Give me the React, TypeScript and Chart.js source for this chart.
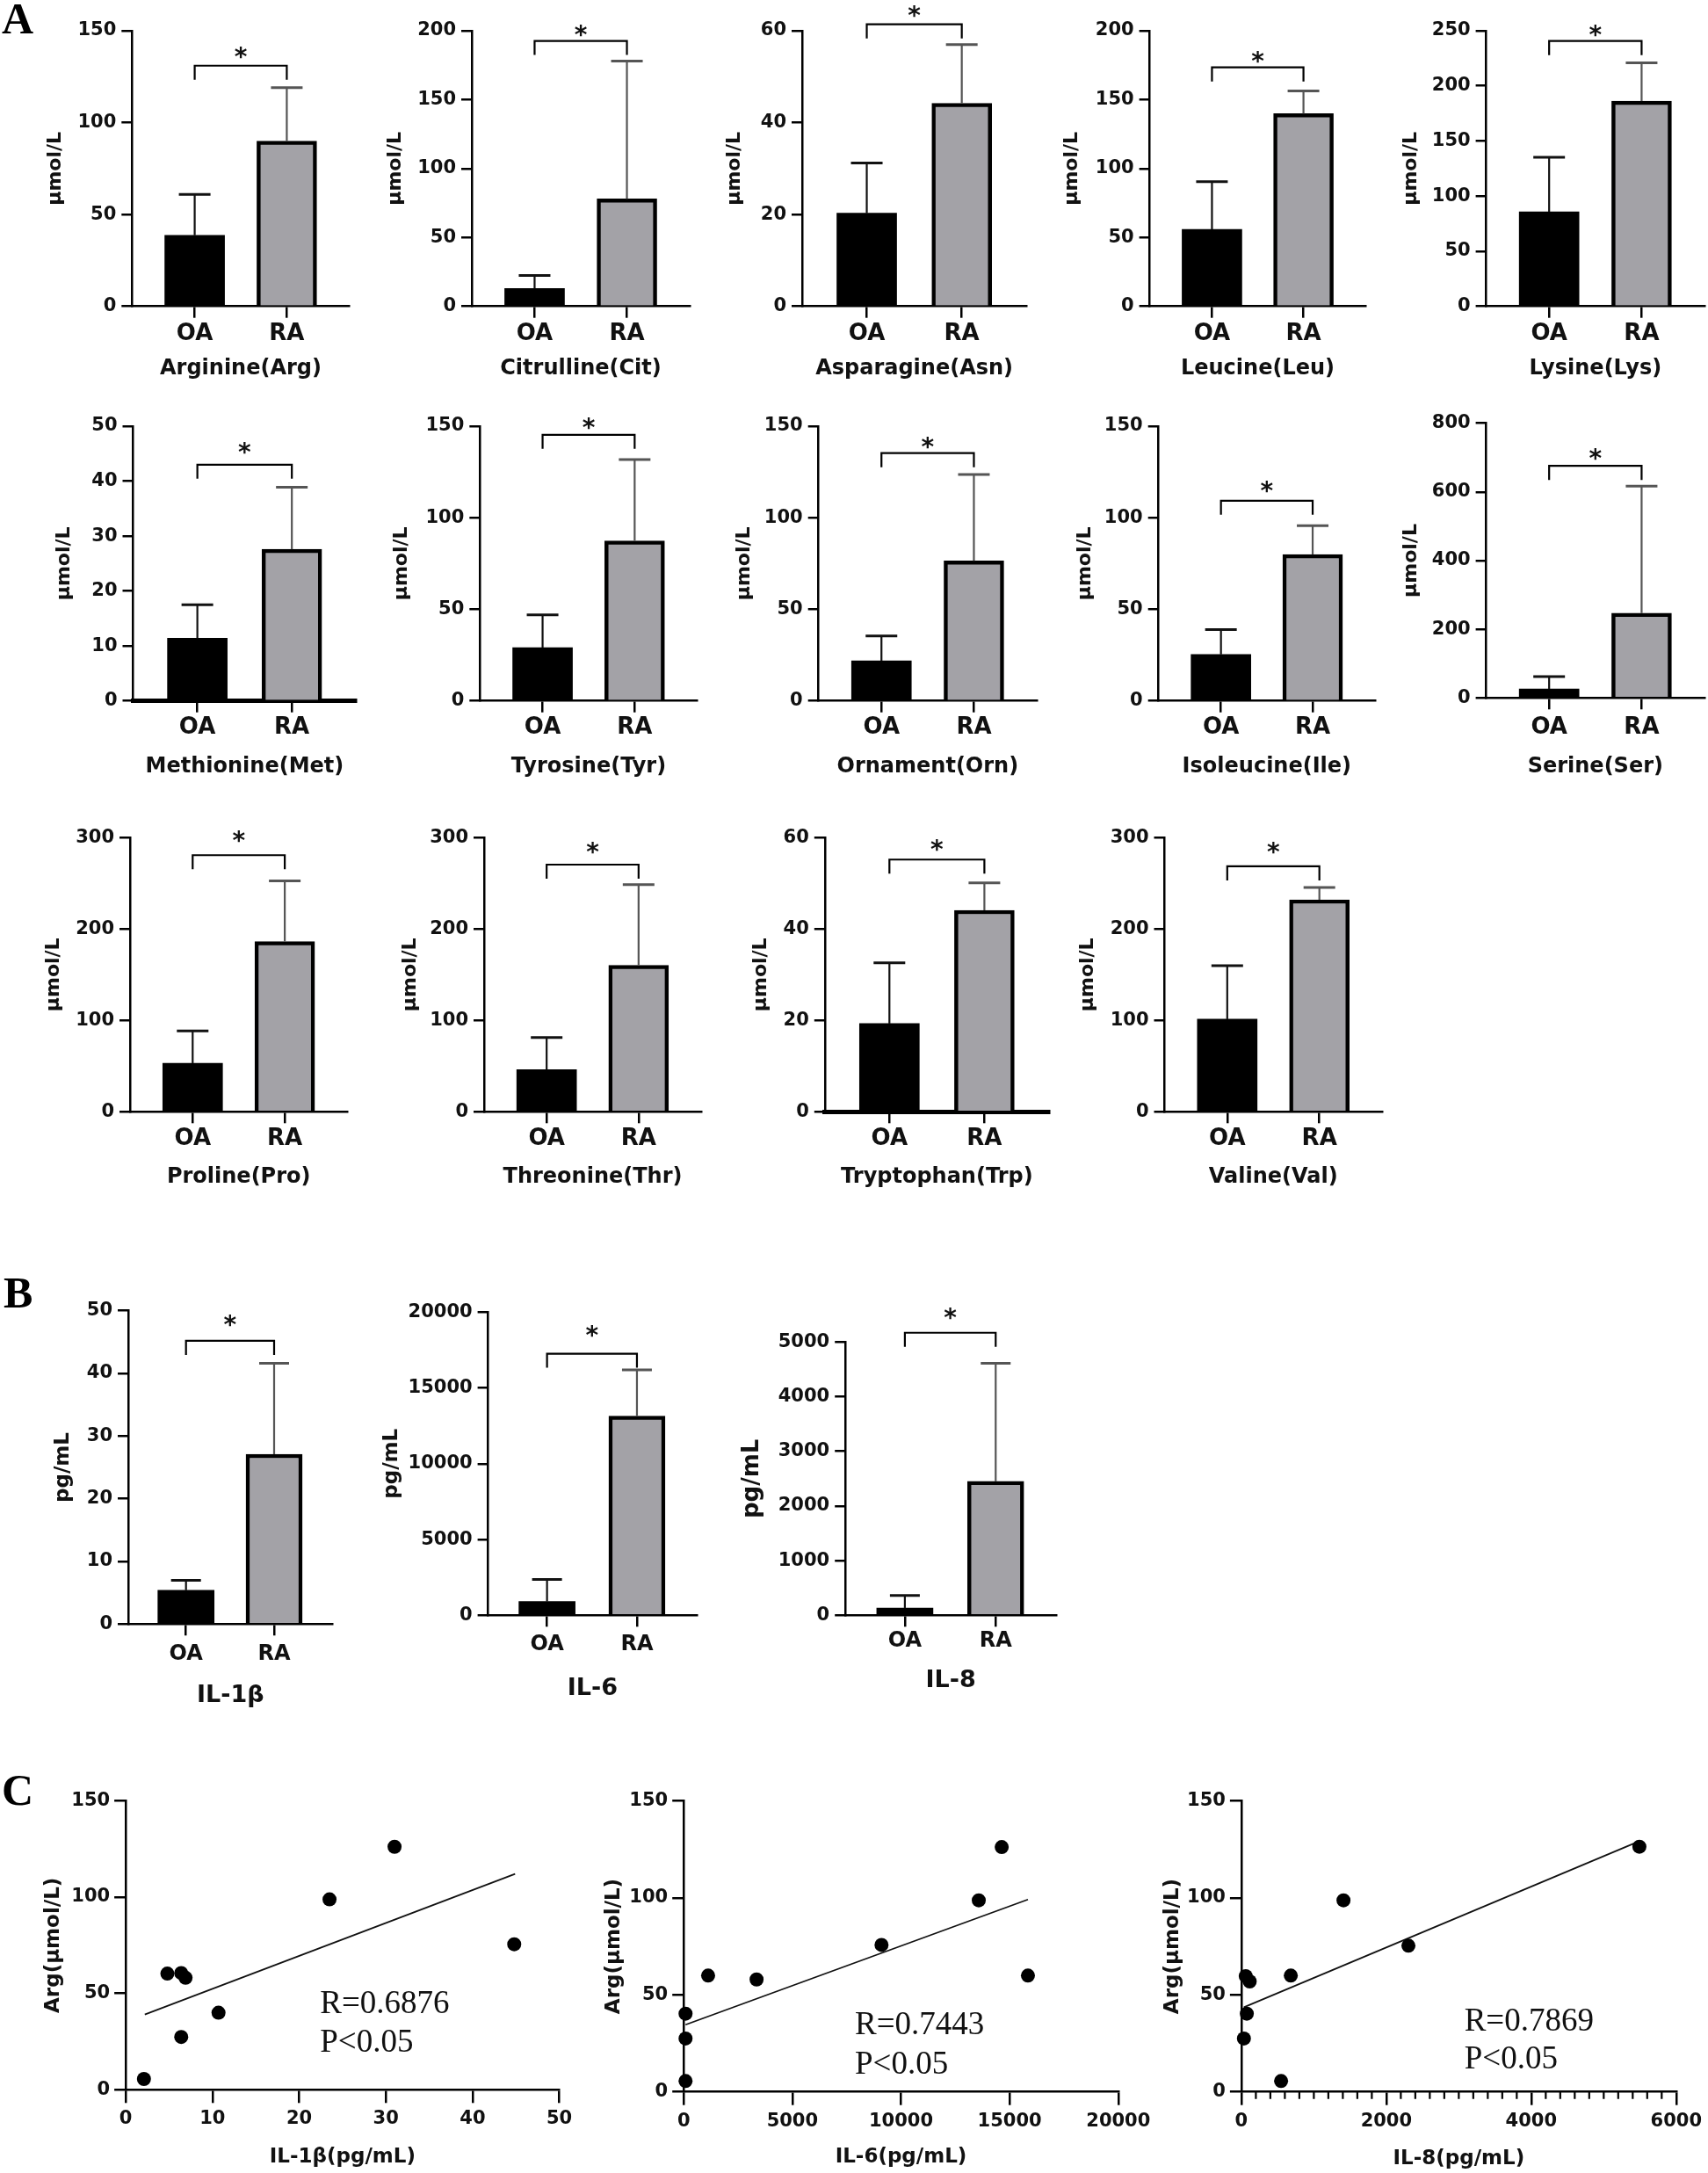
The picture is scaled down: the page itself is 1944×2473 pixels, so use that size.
import React, { useEffect, useRef } from 'react';
import { Chart, registerables } from 'chart.js';

Chart.register(...registerables);

// ---------------- DATA ----------------
const groups = ['OA', 'RA'];

// Panel A: amino acids (μmol/L)
const aminoNames = [
  'Arginine(Arg)', 'Citrulline(Cit)', 'Asparagine(Asn)', 'Leucine(Leu)', 'Lysine(Lys)',
  'Methionine(Met)', 'Tyrosine(Tyr)', 'Ornament(Orn)', 'Isoleucine(Ile)', 'Serine(Ser)',
  'Proline(Pro)', 'Threonine(Thr)', 'Tryptophan(Trp)', 'Valine(Val)',
];
const aminoOAMean = [38.7, 13, 20.3, 55.9, 85.8, 11.4, 29.1, 21.9, 25.4, 26.4, 53.2, 46.2, 19.3, 101.3];
const aminoOAUpper = [61, 22.5, 31.2, 90.5, 135.2, 17.5, 47, 35.5, 39, 62.3, 88.5, 81.4, 32.6, 160];
const aminoRAMean = [90, 78, 44.2, 139.8, 186.2, 27.6, 87.4, 76.5, 79.9, 247, 186.2, 160.3, 44.1, 232];
const aminoRAUpper = [119, 178, 57, 156.4, 221, 38.9, 131.8, 123.6, 95.7, 616.7, 252.6, 248.7, 50.1, 245.5];
const aminoBracket = [131, 192.6, 61.4, 173.4, 240.7, 43, 145.3, 135.3, 109.3, 676, 280.8, 270.5, 55.2, 268.6];
const aminoStar = [138, 200, 64.2, 180.9, 250, 46, 151.3, 140.9, 116.9, 710, 301.6, 288.8, 58.4, 288.8];
const aminoYMax = [150, 200, 60, 200, 250, 50, 150, 150, 150, 800, 300, 300, 60, 300];
const aminoYStep = [50, 50, 20, 50, 50, 10, 50, 50, 50, 200, 100, 100, 20, 100];
const aminoUnit = 'μmol/L';

// Panel B: cytokines (pg/mL)
const cytoNames = ['IL-1β', 'IL-6', 'IL-8'];
const cytoOAMean = [5.4, 910, 134];
const cytoOAUpper = [7.0, 2360, 364];
const cytoRAMean = [27.1, 13140, 2450];
const cytoRAUpper = [41.6, 16190, 4610];
const cytoBracket = [45.2, 17260, 5170];
const cytoStar = [48.4, 18740, 5520];
const cytoYMax = [50, 20000, 5000];
const cytoYStep = [10, 5000, 1000];
const cytoUnit = 'pg/mL';

// Panel C: correlations of Arg with cytokines
const il1bValues = [2.1, 4.8, 6.4, 6.9, 6.4, 10.7, 23.5, 31.0, 44.8];
const il1bArg = [5.6, 60.3, 60.6, 58.1, 27.4, 40.0, 98.8, 126.1, 75.5];
const il1bFitX = [2.2, 44.9];
const il1bFitY = [39.1, 112.0];

const il6Values = [84, 84, 84, 1123, 3353, 9103, 13579, 14635, 15842];
const il6Arg = [5.6, 27.5, 40.3, 59.9, 57.9, 75.7, 98.7, 126.1, 59.9];
const il6FitX = [84, 15842];
const il6FitY = [34.6, 99.1];

const il8Values = [35, 75, 60, 115, 548, 682, 1409, 2305, 5492];
const il8Arg = [27.5, 40.3, 59.6, 56.9, 5.6, 59.9, 98.7, 75.3, 126.3];
const il8FitX = [35, 5477];
const il8FitY = [43.6, 128.9];

const corrXTitles = ['IL-1β(pg/mL)', 'IL-6(pg/mL)', 'IL-8(pg/mL)'];
const corrYTitle = 'Arg(μmol/L)';
const corrXMax = [50, 20000, 6000];
const corrXStep = [10, 5000, 2000];
const corrMinorStep = [0, 0, 200];
const corrYMax = 150;
const corrYStep = 50;
const rTexts = ['R=0.6876', 'R=0.7443', 'R=0.7869'];
const pTexts = ['P<0.05', 'P<0.05', 'P<0.05'];
const panelLetters = ['A', 'B', 'C'];

// ---------------- LAYOUT (page pixels) ----------------
const aminoAxisX = [150.3, 537, 913, 1308.6, 1691.6, 151.5, 546.3, 931.7, 1318.7, 1691.6, 148, 551, 938.8, 1325.5];
const aminoAxisEnd = [397.7, 785, 1168.2, 1554.4, 1940, 405.3, 793.6, 1180, 1565, 1940, 395.4, 798, 1193.9, 1573];
const aminoTopY = [35, 35, 35, 35, 35, 485, 485, 485, 485, 481.7, 953.3, 953.3, 953.3, 953.3];
const aminoZeroY = [348.7, 348.7, 348.7, 348.7, 348.7, 797.7, 797.7, 797.7, 797.7, 794.3, 1265.3, 1265.3, 1265.3, 1265.3];
const aminoCatY = [380, 380, 380, 380, 380, 828.3, 828.3, 828.3, 828.3, 828.3, 1296.7, 1296.7, 1296.7, 1296.7];
const aminoTitleY = [420, 420, 420, 420, 420, 873, 873, 873, 873, 873, 1340, 1340, 1340, 1340];
const aminoYTitleOff = [87, 87, 77, 88, 85, 78, 89, 85, 84, 85, 87, 84, 73, 87];
const aminoXAxisW = [2.5, 2.5, 2.5, 2.5, 2.5, 5, 2.5, 2.5, 2.5, 2.5, 2.5, 2.5, 5, 2.5];

const cytoAxisX = [146, 555.6, 962.2];
const cytoAxisEnd = [378.7, 793, 1202];
const cytoTopY = [1491.7, 1493.3, 1527.3];
const cytoZeroY = [1848.3, 1838.3, 1838.3];
const cytoCatY = [1883, 1871.7, 1868];
const cytoTitleY = [1930, 1921.7, 1913];
const cytoYTitleX = [72, 446, 857];
const cytoYTitleSize = [23, 23, 26];

const scAxisX = [143.1, 778.2, 1412.9];
const scXEnd = [636.6, 1272.8, 1907.8];
const scTopY = [2049.3, 2049.3, 2049.3];
const scZeroY = [2378.3, 2380.7, 2380.7];
const scTickY = [2411.7, 2415, 2415];
const scTitleY = [2455, 2455, 2456.7];
const scYTitleX = [60.7, 698.5, 1335];
const rLeft = [364.3, 973, 1666.7];
const rY = [2278, 2302.5, 2298];
const pY = [2322, 2347.5, 2341.7];
const letterPos = [[2, -4], [4, 1446], [2, 2012]];

// ---------------- STYLE ----------------
const SANS = "'DejaVu Sans', 'Liberation Sans', sans-serif";
const SERIF = "'Liberation Serif', 'DejaVu Serif', serif";
const TXT = '#111';
const PAGE_W = 1944;
const X_TICK = 13;
const Y_TICK = 12;

type Box = { left: number; top: number; width: number; height: number };

type BarSpec = {
  name: string; unit: string;
  oa: number; oaUpper: number; ra: number; raUpper: number;
  bracket: number; star: number; yMax: number; yStep: number;
  axisX: number; axisEnd: number; topY: number; zeroY: number; catY: number; titleY: number; yTitleX: number;
  xMin: number; xMax: number; barWidth: number; capHalf: number; xAxisWidth: number;
  tickSize: number; catSize: number; titleSize: number; yTitleSize: number;
};

function buildBar(s: BarSpec): { box: Box; config: any } {
  const yLh = s.yTitleSize * 1.2;
  const tLh = s.titleSize * 1.2;
  const cLh = s.catSize * 1.2;
  const left = Math.round(s.yTitleX - yLh / 2);
  const top = Math.round(s.topY - 50);
  const padRight = Math.min(30, Math.floor(PAGE_W - s.axisEnd));
  const right = Math.round(s.axisEnd + padRight);
  const bottom = Math.round(s.titleY + tLh / 2);
  const box = { left, top, width: right - left, height: bottom - top };
  const yW = s.axisX - left;
  const xH = bottom - s.zeroY;
  const padR = right - s.axisEnd;
  const catPad = s.catY - s.zeroY - X_TICK - cLh / 2;

  const extras = {
    id: 'barExtras',
    afterDatasetsDraw(chart: any) {
      const ctx = chart.ctx;
      const xs = chart.scales.x;
      const ys = chart.scales.y;
      const means = [s.oa, s.ra];
      const uppers = [s.oaUpper, s.raUpper];
      const colors = ['#111', '#555'];
      ctx.save();
      for (let i = 0; i < 2; i++) {
        const px = xs.getPixelForValue(i);
        const y0 = ys.getPixelForValue(means[i]);
        const y1 = ys.getPixelForValue(uppers[i]);
        ctx.strokeStyle = colors[i];
        ctx.lineWidth = 2.2;
        ctx.beginPath();
        ctx.moveTo(px, y0);
        ctx.lineTo(px, y1);
        ctx.stroke();
        ctx.lineWidth = 3;
        ctx.beginPath();
        ctx.moveTo(px - s.capHalf, y1);
        ctx.lineTo(px + s.capHalf, y1);
        ctx.stroke();
      }
      const x0 = xs.getPixelForValue(0);
      const x1 = xs.getPixelForValue(1);
      const yb = ys.getPixelForValue(s.bracket);
      ctx.strokeStyle = '#000';
      ctx.lineWidth = 2.2;
      ctx.beginPath();
      ctx.moveTo(x0, yb + 16);
      ctx.lineTo(x0, yb);
      ctx.lineTo(x1, yb);
      ctx.lineTo(x1, yb + 16);
      ctx.stroke();
      const ystar = ys.getPixelForValue(s.star);
      ctx.font = `bold 28px ${SANS}`;
      ctx.fillStyle = '#111';
      ctx.textAlign = 'center';
      ctx.textBaseline = 'alphabetic';
      const m = ctx.measureText('*');
      const asc = m.actualBoundingBoxAscent || 20;
      const desc = m.actualBoundingBoxDescent || -9;
      ctx.fillText('*', (x0 + x1) / 2, ystar + (asc - desc) / 2);
      ctx.restore();
    },
  };

  const config = {
    type: 'bar',
    data: {
      datasets: [
        {
          data: [{ x: 0, y: s.oa }, { x: 1, y: s.ra }],
          backgroundColor: ['#000000', '#a3a2a7'],
          borderColor: '#000000',
          borderWidth: [0, 4.5],
          borderSkipped: 'bottom',
          barThickness: s.barWidth,
        },
      ],
    },
    options: {
      responsive: false,
      animation: false,
      layout: { padding: { top: s.topY - top, right: padR, left: 0, bottom: 0 } },
      plugins: { legend: { display: false }, tooltip: { enabled: false } },
      scales: {
        x: {
          type: 'linear',
          offset: false,
          bounds: 'data',
          min: s.xMin,
          max: s.xMax,
          afterBuildTicks: (sc: any) => { sc.ticks = groups.map((_, i) => ({ value: i })); },
          afterFit: (sc: any) => { sc.height = xH; },
          ticks: {
            callback: (v: any) => groups[v] ?? '',
            color: TXT,
            font: { family: SANS, size: s.catSize, weight: 'bold' },
            padding: catPad,
            autoSkip: false,
            maxRotation: 0,
            minRotation: 0,
          },
          grid: { display: true, offset: false, drawOnChartArea: false, drawTicks: true, tickLength: X_TICK, color: '#000', tickColor: '#000', tickWidth: 2.5, lineWidth: 2.5 },
          border: { display: true, color: '#000', width: s.xAxisWidth },
          title: { display: true, text: s.name, color: TXT, font: { family: SANS, size: s.titleSize, weight: 'bold' }, padding: 0 },
        },
        y: {
          type: 'linear',
          min: 0,
          max: s.yMax,
          afterFit: (sc: any) => { sc.width = yW; },
          ticks: {
            stepSize: s.yStep,
            callback: (v: any) => String(v),
            color: TXT,
            font: { family: SANS, size: s.tickSize, weight: 'bold' },
            padding: 6,
          },
          grid: { display: true, drawOnChartArea: false, drawTicks: true, tickLength: Y_TICK, color: '#000', tickColor: '#000', tickWidth: 2.5, lineWidth: 2.5 },
          border: { display: true, color: '#000', width: 2.5 },
          title: { display: true, text: s.unit, color: TXT, font: { family: SANS, size: s.yTitleSize, weight: 'bold' }, padding: 0 },
        },
      },
    },
    plugins: [extras],
  };
  return { box, config };
}

type ScSpec = {
  xs: number[]; ys: number[]; fitX: number[]; fitY: number[];
  xMax: number; xStep: number; minorStep: number; xTitle: string; yTitle: string;
  axisX: number; xEnd: number; topY: number; zeroY: number; tickY: number; titleY: number; yTitleX: number;
};

function buildScatter(s: ScSpec): { box: Box; config: any } {
  const titleSize = 23;
  const tickSize = 21;
  const lh = titleSize * 1.2;
  const tickLen = 15;
  const left = Math.round(s.yTitleX - lh / 2);
  const top = Math.round(s.topY - 30);
  const padRight = Math.min(50, Math.floor(PAGE_W - s.xEnd));
  const right = Math.round(s.xEnd + padRight);
  const bottom = Math.round(s.titleY + lh / 2);
  const box = { left, top, width: right - left, height: bottom - top };
  const yW = s.axisX - left;
  const xH = bottom - s.zeroY;
  const padR = right - s.xEnd;
  const tickPad = s.tickY - s.zeroY - tickLen - (tickSize * 1.2) / 2;

  const minor = {
    id: 'minorTicks',
    afterDraw(chart: any) {
      if (!s.minorStep) return;
      const ctx = chart.ctx;
      const xs = chart.scales.x;
      const yb = chart.chartArea.bottom;
      ctx.save();
      ctx.strokeStyle = '#000';
      ctx.lineWidth = 2.2;
      ctx.beginPath();
      for (let v = 0; v <= s.xMax; v += s.minorStep) {
        if (v % s.xStep === 0) continue;
        const px = xs.getPixelForValue(v);
        ctx.moveTo(px, yb);
        ctx.lineTo(px, yb + 8);
      }
      ctx.stroke();
      ctx.restore();
    },
  };

  const config = {
    type: 'scatter',
    data: {
      datasets: [
        {
          type: 'scatter',
          data: s.xs.map((x, i) => ({ x, y: s.ys[i] })),
          pointRadius: 8,
          pointBackgroundColor: '#000',
          pointBorderWidth: 0,
          backgroundColor: '#000',
          clip: false,
        },
        {
          type: 'line',
          data: s.fitX.map((x, i) => ({ x, y: s.fitY[i] })),
          borderColor: '#111',
          borderWidth: 1.8,
          pointRadius: 0,
          showLine: true,
          fill: false,
          clip: false,
        },
      ],
    },
    options: {
      responsive: false,
      animation: false,
      layout: { padding: { top: s.topY - top, right: padR, left: 0, bottom: 0 } },
      plugins: { legend: { display: false }, tooltip: { enabled: false } },
      scales: {
        x: {
          type: 'linear',
          min: 0,
          max: s.xMax,
          afterFit: (sc: any) => { sc.height = xH; },
          ticks: {
            stepSize: s.xStep,
            callback: (v: any) => String(v),
            color: TXT,
            font: { family: SANS, size: tickSize, weight: 'bold' },
            padding: tickPad,
            autoSkip: false,
            maxRotation: 0,
            minRotation: 0,
          },
          grid: { display: true, drawOnChartArea: false, drawTicks: true, tickLength: tickLen, color: '#000', tickColor: '#000', tickWidth: 2.5, lineWidth: 2.5 },
          border: { display: true, color: '#000', width: 2.5 },
          title: { display: true, text: s.xTitle, color: TXT, font: { family: SANS, size: titleSize, weight: 'bold' }, padding: 0 },
        },
        y: {
          type: 'linear',
          min: 0,
          max: corrYMax,
          afterFit: (sc: any) => { sc.width = yW; },
          ticks: {
            stepSize: corrYStep,
            callback: (v: any) => String(v),
            color: TXT,
            font: { family: SANS, size: tickSize, weight: 'bold' },
            padding: 5,
          },
          grid: { display: true, drawOnChartArea: false, drawTicks: true, tickLength: 13, color: '#000', tickColor: '#000', tickWidth: 2.5, lineWidth: 2.5 },
          border: { display: true, color: '#000', width: 2.5 },
          title: { display: true, text: s.yTitle, color: TXT, font: { family: SANS, size: titleSize, weight: 'bold' }, padding: 0 },
        },
      },
    },
    plugins: [minor],
  };
  return { box, config };
}

function ChartBox({ box, config }: { box: Box; config: any }) {
  const ref = useRef<HTMLCanvasElement | null>(null);
  useEffect(() => {
    if (!ref.current) return;
    const chart = new Chart(ref.current, config);
    return () => chart.destroy();
  }, [config]);
  return (
    <canvas
      ref={ref}
      width={box.width}
      height={box.height}
      style={{ position: 'absolute', left: box.left, top: box.top, width: box.width, height: box.height }}
    />
  );
}

const aminoCharts = aminoNames.map((name, i) =>
  buildBar({
    name, unit: aminoUnit,
    oa: aminoOAMean[i], oaUpper: aminoOAUpper[i], ra: aminoRAMean[i], raUpper: aminoRAUpper[i],
    bracket: aminoBracket[i], star: aminoStar[i], yMax: aminoYMax[i], yStep: aminoYStep[i],
    axisX: aminoAxisX[i], axisEnd: aminoAxisEnd[i], topY: aminoTopY[i], zeroY: aminoZeroY[i],
    catY: aminoCatY[i], titleY: aminoTitleY[i], yTitleX: aminoAxisX[i] - aminoYTitleOff[i],
    xMin: -0.68, xMax: 1.68, barWidth: 68, capHalf: 18, xAxisWidth: aminoXAxisW[i],
    tickSize: 21, catSize: 26, titleSize: 24, yTitleSize: 22,
  })
);

const cytoCharts = cytoNames.map((name, i) =>
  buildBar({
    name, unit: cytoUnit,
    oa: cytoOAMean[i], oaUpper: cytoOAUpper[i], ra: cytoRAMean[i], raUpper: cytoRAUpper[i],
    bracket: cytoBracket[i], star: cytoStar[i], yMax: cytoYMax[i], yStep: cytoYStep[i],
    axisX: cytoAxisX[i], axisEnd: cytoAxisEnd[i], topY: cytoTopY[i], zeroY: cytoZeroY[i],
    catY: cytoCatY[i], titleY: cytoTitleY[i], yTitleX: cytoYTitleX[i],
    xMin: -0.655, xMax: 1.665, barWidth: 64, capHalf: 17, xAxisWidth: 2.5,
    tickSize: 21, catSize: 24, titleSize: 27, yTitleSize: cytoYTitleSize[i],
  })
);

const corrSeries = [
  { xs: il1bValues, ys: il1bArg, fitX: il1bFitX, fitY: il1bFitY },
  { xs: il6Values, ys: il6Arg, fitX: il6FitX, fitY: il6FitY },
  { xs: il8Values, ys: il8Arg, fitX: il8FitX, fitY: il8FitY },
];

const corrCharts = corrSeries.map((d, i) =>
  buildScatter({
    ...d,
    xMax: corrXMax[i], xStep: corrXStep[i], minorStep: corrMinorStep[i],
    xTitle: corrXTitles[i], yTitle: corrYTitle,
    axisX: scAxisX[i], xEnd: scXEnd[i], topY: scTopY[i], zeroY: scZeroY[i],
    tickY: scTickY[i], titleY: scTitleY[i], yTitleX: scYTitleX[i],
  })
);

export default function App() {
  const rpSize = 37;
  return (
    <div style={{ position: 'absolute', left: 0, top: 0, width: PAGE_W, height: 2473, overflow: 'hidden', background: '#fff' }}>
      {panelLetters.map((l, i) => (
        <div
          key={l}
          style={{
            position: 'absolute', left: letterPos[i][0], top: letterPos[i][1],
            fontFamily: SERIF, fontWeight: 'bold', fontSize: 50, lineHeight: '50px', color: '#000',
          }}
        >
          {l}
        </div>
      ))}
      {aminoCharts.map((c, i) => <ChartBox key={'a' + i} box={c.box} config={c.config} />)}
      {cytoCharts.map((c, i) => <ChartBox key={'b' + i} box={c.box} config={c.config} />)}
      {corrCharts.map((c, i) => <ChartBox key={'c' + i} box={c.box} config={c.config} />)}
      {rTexts.map((t, i) => (
        <React.Fragment key={'rp' + i}>
          <div style={{ position: 'absolute', left: rLeft[i], top: rY[i] - rpSize / 2, fontFamily: SERIF, fontSize: rpSize, lineHeight: rpSize + 'px', color: '#111', whiteSpace: 'nowrap' }}>{t}</div>
          <div style={{ position: 'absolute', left: rLeft[i], top: pY[i] - rpSize / 2, fontFamily: SERIF, fontSize: rpSize, lineHeight: rpSize + 'px', color: '#111', whiteSpace: 'nowrap' }}>{pTexts[i]}</div>
        </React.Fragment>
      ))}
    </div>
  );
}
